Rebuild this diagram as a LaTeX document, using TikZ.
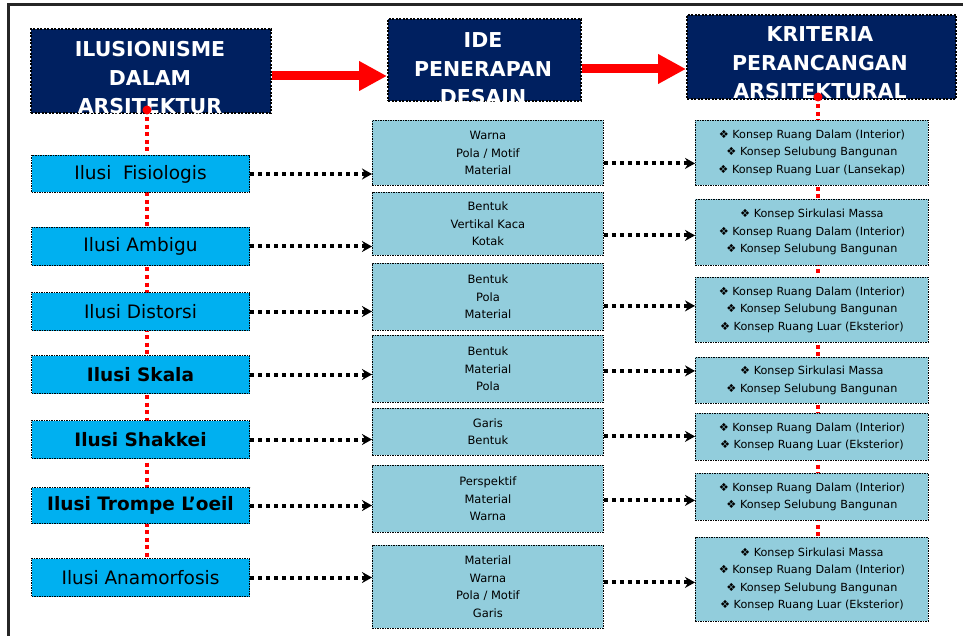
\documentclass[tikz,border=0pt]{standalone}
\usepackage{fontspec}
\setmainfont{DejaVu Sans}
\usetikzlibrary{arrows.meta}
\definecolor{navy}{RGB}{0,32,96}
\definecolor{cyanbox}{RGB}{0,176,240}
\definecolor{lightbox}{RGB}{146,205,220}
\pgfdeclarelayer{bg}
\pgfsetlayers{bg,main}
\begin{document}
\begin{tikzpicture}[x=1pt,y=-1pt,
 hbox/.style={fill=navy, draw=black, line width=2pt, dash pattern=on 2pt off 1.5pt, anchor=north west, inner sep=0pt},
 htext/.style={text=white, font=\fontsize{20.5}{28.5}\selectfont\bfseries, align=center, inner sep=0pt},
 lbox/.style={fill=cyanbox, draw=black, line width=1pt, dash pattern=on 1.5pt off 1pt, anchor=north west, minimum width=218pt, inner sep=0pt, font=\fontsize{18.5}{20}\selectfont},
 mbox/.style={fill=lightbox, draw=black, line width=0.8pt, dash pattern=on 1.5pt off 1pt, anchor=north west, minimum width=231pt, inner sep=0pt, align=center, font=\fontsize{11.5}{17.5}\selectfont},
 rbox/.style={fill=lightbox, draw=black, line width=0.8pt, dash pattern=on 1.5pt off 1pt, anchor=north west, minimum width=233pt, inner sep=0pt, align=center, font=\fontsize{11.2}{17.5}\selectfont},
 redarrow/.style={red, line width=9pt, -{Triangle[length=28pt,width=28pt]}},
 reddash/.style={red, line width=3.5pt, dash pattern=on 4pt off 3.5pt},
 reddot/.style={circle, fill=red, inner sep=0pt, minimum size=9pt},
 dotarrow/.style={black, line width=4pt, dash pattern=on 4pt off 4pt, -{Stealth[length=10pt,width=11pt]}},
]
\useasboundingbox (0,0) rectangle (963,636);
\begin{pgfonlayer}{bg}
\fill[white] (0,0) rectangle (963,636);
\draw[line width=3pt, black!85] (8.5,636) -- (8.5,5) -- (963,5);
\end{pgfonlayer}

\coordinate (d1) at (147,110);
\coordinate (d2) at (818,97);

% left column
\node[lbox, minimum height=37pt] (L1) at (31,155) {Ilusi\ \ Fisiologis};
\node[lbox, minimum height=38pt] (L2) at (31,227) {Ilusi Ambigu};
\node[lbox, minimum height=38pt] (L3) at (31,292) {Ilusi Distorsi};
\node[lbox, minimum height=38pt] (L4) at (31,355) {\bfseries Ilusi Skala};
\node[lbox, minimum height=38pt] (L5) at (31,420) {\bfseries Ilusi Shakkei};
\node[lbox, minimum height=36pt] (L6) at (31,487) {\bfseries Ilusi Trompe L'oeil};
\node[lbox, minimum height=38pt] (L7) at (31,558) {Ilusi Anamorfosis};

% right column
\node[rbox, minimum height=65pt] (R1) at (695,120) {❖ Konsep Ruang Dalam (Interior)\\❖ Konsep Selubung Bangunan\\❖ Konsep Ruang Luar (Lansekap)};
\node[rbox, minimum height=66pt] (R2) at (695,199) {❖ Konsep Sirkulasi Massa\\❖ Konsep Ruang Dalam (Interior)\\❖ Konsep Selubung Bangunan};
\node[rbox, minimum height=65pt] (R3) at (695,277) {❖ Konsep Ruang Dalam (Interior)\\❖ Konsep Selubung Bangunan\\❖ Konsep Ruang Luar (Eksterior)};
\node[rbox, minimum height=46pt] (R4) at (695,357) {❖ Konsep Sirkulasi Massa\\❖ Konsep Selubung Bangunan};
\node[rbox, minimum height=47pt] (R5) at (695,413) {❖ Konsep Ruang Dalam (Interior)\\❖ Konsep Ruang Luar (Eksterior)};
\node[rbox, minimum height=47pt] (R6) at (695,473) {❖ Konsep Ruang Dalam (Interior)\\❖ Konsep Selubung Bangunan};
\node[rbox, minimum height=84pt] (R7) at (695,537) {❖ Konsep Sirkulasi Massa\\❖ Konsep Ruang Dalam (Interior)\\❖ Konsep Selubung Bangunan\\❖ Konsep Ruang Luar (Eksterior)};

% red dotted spines behind the boxes
\begin{pgfonlayer}{bg}
\draw[reddash] (d1) -- (d1 |- L7.north);
\draw[reddash] (d2) -- (d2 |- R7.north);
\end{pgfonlayer}

% middle column
\node[mbox, minimum height=65pt] (M1) at (372,120) {Warna\\Pola / Motif\\Material};
\node[mbox, minimum height=63pt] (M2) at (372,192) {Bentuk\\Vertikal Kaca\\Kotak};
\node[mbox, minimum height=67pt] (M3) at (372,263) {Bentuk\\Pola\\Material};
\node[mbox, minimum height=67pt] (M4) at (372,335) {Bentuk\\Material\\Pola};
\node[mbox, minimum height=47pt] (M5) at (372,408) {Garis\\Bentuk};
\node[mbox, minimum height=67pt] (M6) at (372,465) {Perspektif\\Material\\Warna};
\node[mbox, minimum height=83pt] (M7) at (372,545) {Material\\Warna\\Pola / Motif\\Garis};

% headers
\node[hbox, minimum width=240pt, minimum height=84pt] (H1) at (30,28) {};
\node[hbox, minimum width=193pt, minimum height=82pt] (H2) at (387,18) {};
\node[hbox, minimum width=269pt, minimum height=84pt] (H3) at (686,14) {};
\node[htext] (H1t) at (150,78) {ILUSIONISME\\DALAM\\ARSITEKTUR};
\node[htext] (H2t) at (483,69) {IDE\\PENERAPAN\\DESAIN};
\node[htext] (H3t) at (820,63) {KRITERIA\\PERANCANGAN\\ARSITEKTURAL};

% red dots
\node[reddot] (D1) at (d1) {};
\node[reddot] (D2) at (d2) {};

% red arrows
\draw[redarrow] ([yshift=-5pt]H1.east) -- ([yshift=-5pt]H1.east -| H2.west);
\draw[redarrow] ([yshift=-9pt]H2.east) -- ([yshift=-9pt]H2.east -| H3.west);

% left to middle
\foreach \i in {1,...,7}{
  \draw[dotarrow] (L\i.east) -- (L\i.east -| M\i.west);
}
% middle to right
\foreach \i/\s in {1/-10.5,2/-11.5,3/-9,4/-2,5/-4.5,6/-1.5,7/4.5}{
  \draw[dotarrow] ([yshift=\s pt]M\i.east) -- ([yshift=\s pt]M\i.east -| R\i.west);
}
\end{tikzpicture}
\end{document}
